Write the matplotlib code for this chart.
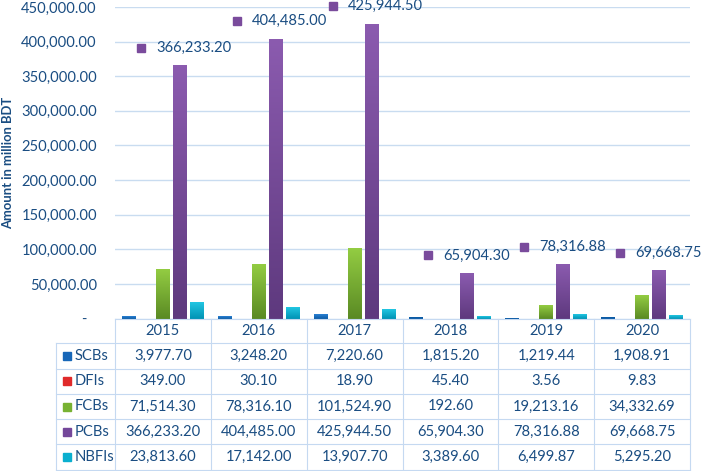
import matplotlib
matplotlib.use('Agg')
import matplotlib.pyplot as plt
import numpy as np
from matplotlib import transforms
from matplotlib.colors import to_rgba

# ---- data ----
years = ['2015', '2016', '2017', '2018', '2019', '2020']
series_names = ['SCBs', 'DFIs', 'FCBs', 'PCBs', 'NBFIs']
scbs = [3977.70, 3248.20, 7220.60, 1815.20, 1219.44, 1908.91]
dfis = [349.00, 30.10, 18.90, 45.40, 3.56, 9.83]
fcbs = [71514.30, 78316.10, 101524.90, 192.60, 19213.16, 34332.69]
pcbs = [366233.20, 404485.00, 425944.50, 65904.30, 78316.88, 69668.75]
nbfis = [23813.60, 17142.00, 13907.70, 3389.60, 6499.87, 5295.20]
yticks = [0, 50000, 100000, 150000, 200000, 250000, 300000, 350000, 400000, 450000]
ylabel = 'Amount in million BDT'

series_values = [scbs, dfis, fcbs, pcbs, nbfis]

# ---- style ----
grad_colors = [('#2B80D2', '#0B5BA5'),
               ('#F04444', '#C01A1A'),
               ('#93CC42', '#5A8A24'),
               ('#8B5BAF', '#5E397E'),
               ('#22C6E2', '#0092B4')]
key_colors = ['#1767B8', '#E02A2A', '#78B232', '#74479A', '#0AAFCF']
text_color = '#1A4D82'
grid_color = '#C9DCF0'
table_color = '#C5D9F1'
FONT = 'Lato'
FS = 10.6

plt.rcParams['font.family'] = [FONT, 'DejaVu Sans']

W, H = 706, 471
fig = plt.figure(figsize=(W / 100, H / 100), dpi=100)

x_left, x_right = 115, 690
y_top, y_zero = 7, 318.6
ax = fig.add_axes([x_left / W, (H - y_zero) / H, (x_right - x_left) / W, (y_zero - y_top) / H])

n = len(years)
x = np.arange(n)
bw = 0.146
step = 0.177
px_val = 450000 / (y_zero - y_top)

bars_all = []
for k, vals in enumerate(series_values):
    bars = ax.bar(x + (k - 2) * step, vals, width=bw, color=grad_colors[k][1],
                  linewidth=0, zorder=2)
    bars_all.append(bars)
    top, bot = to_rgba(grad_colors[k][0]), to_rgba(grad_colors[k][1])
    grad = np.linspace(0, 1, 64)[:, None, None]
    img = (1 - grad) * np.array(top)[None, None, :] + grad * np.array(bot)[None, None, :]
    for r in bars:
        x0, w_, h_ = r.get_x(), r.get_width(), r.get_height()
        if h_ < 0.5 * px_val:
            r.set_visible(False)
            continue
        if h_ < 2 * px_val:
            continue
        im = ax.imshow(img, extent=(x0, x0 + w_, 0, h_), aspect='auto',
                       origin='upper', zorder=2.1, interpolation='bilinear')
        im.set_clip_path(r)

ax.set_xlim(-0.5, n - 0.5)
ax.set_ylim(0, 450000)
ax.set_yticks(yticks)
ax.set_yticklabels(['-' if v == 0 else f'{v:,.2f}' for v in yticks],
                   fontsize=FS, color=text_color)
ax.set_xticks([])
ax.tick_params(axis='y', length=0, pad=13)
for s in ax.spines.values():
    s.set_visible(False)
ax.grid(axis='y', color=grid_color, linewidth=1.0, zorder=0)
ax.set_axisbelow(True)
lab0 = ax.get_yticklabels()[0]
lab0.set_transform(lab0.get_transform() + transforms.ScaledTranslation(-10 / 100, 0, fig.dpi_scale_trans))

fig.text(8 / W, 1 - 163 / H, ylabel, rotation=90, ha='center', va='center',
         fontsize=9.4, fontweight='bold', color=text_color)

# PCB data labels with legend key
for r, v in zip(bars_all[3], pcbs):
    xc = r.get_x() + r.get_width() / 2
    mk_tr = transforms.offset_copy(ax.transData, fig, x=-39, y=17.5, units='dots')
    ax.plot([xc], [v], marker='s', markersize=5.8, color='#7A4B9C', transform=mk_tr,
            clip_on=False, zorder=5)
    tx_tr = transforms.offset_copy(ax.transData, fig, x=-24, y=17.5, units='dots')
    ax.text(xc, v, f'{v:,.2f}', transform=tx_tr, ha='left', va='center',
            fontsize=FS, color=text_color, clip_on=False, zorder=5)

# ---- data table ----
tax = fig.add_axes([0, 0, 1, 1])
tax.set_xlim(0, W)
tax.set_ylim(H, 0)
tax.axis('off')

t_left = 56
col_w = (x_right - x_left) / n
row_edges = [319, 343, 368.5, 394, 419, 444, 469.5]
lw = 0.8
tax.plot([x_left, x_right], [row_edges[0]] * 2, color=table_color, lw=lw)
for ry in row_edges[1:]:
    tax.plot([t_left, x_right], [ry, ry], color=table_color, lw=lw)
tax.plot([t_left, t_left], [row_edges[1], row_edges[-1]], color=table_color, lw=lw)
for j in range(n + 1):
    cx = x_left + j * col_w
    tax.plot([cx, cx], [row_edges[0], row_edges[-1]], color=table_color, lw=lw)

for j, yr in enumerate(years):
    tax.text(x_left + (j + 0.5) * col_w, (row_edges[0] + row_edges[1]) / 2, yr,
             ha='center', va='center', fontsize=FS, color=text_color)
for i, (name, vals) in enumerate(zip(series_names, series_values)):
    yc = (row_edges[i + 1] + row_edges[i + 2]) / 2
    tax.plot([66.5], [yc], marker='s', markersize=5.6, color=key_colors[i], linestyle='none')
    tax.text(74.5, yc, name, ha='left', va='center', fontsize=FS, color=text_color)
    for j, v in enumerate(vals):
        tax.text(x_left + (j + 0.5) * col_w, yc, f'{v:,.2f}', ha='center', va='center',
                 fontsize=FS, color=text_color)

fig.savefig('out.png', dpi=100, facecolor='white')
